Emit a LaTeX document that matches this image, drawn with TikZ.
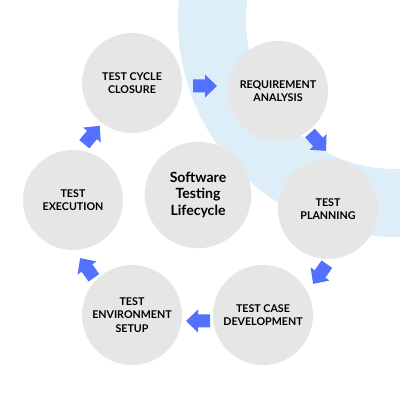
\documentclass[tikz,border=0pt]{standalone}
\usepackage{fontspec}
\setmainfont{Lato}
\definecolor{ringblue}{HTML}{DDEEF8}
\definecolor{stepgray}{HTML}{E6E6E6}
\definecolor{arrowblue}{HTML}{5271FF}
\tikzset{
  stage/.style={circle, fill=stepgray, minimum size=2.5cm, inner sep=0pt, align=center,
    font=\fontsize{7.6pt}{9.5pt}\selectfont\bfseries},
  hub/.style={circle, fill=stepgray, minimum size=2.66cm, inner sep=0pt, align=center,
    font=\fontsize{10pt}{11.6pt}\selectfont\bfseries},
  blockarrow/.pic={\fill[arrowblue] (-12,-6.5) -- (0,-6.5) -- (0,-11.5) -- (12,0) -- (0,11.5) -- (0,6.5) -- (-12,6.5) -- cycle;}
}
\begin{document}
\begin{tikzpicture}[x=0.025cm, y=0.025cm]
\useasboundingbox (0,0) rectangle (400,400);
\fill[white] (0,0) rectangle (400,400);
\begin{scope}
  \clip (0,0) rectangle (400,400);
  \fill[ringblue, even odd rule] (395,380) circle (217) (395,380) circle (149);
\end{scope}
\node[stage] (clo) at (132,317) {TEST CYCLE\\CLOSURE};
\node[stage] (req) at (278,309) {REQUIREMENT\\ANALYSIS};
\node[stage] (pla) at (328,191) {TEST\\PLANNING};
\node[stage] (dev) at (263,85) {TEST CASE\\DEVELOPMENT};
\node[stage] (env) at (132,85) {TEST\\ENVIRONMENT\\SETUP};
\node[stage] (exe) at (73,200) {TEST\\EXECUTION};
\node[hub] (ctr) at (198,205) {Software\\Testing\\Lifecycle};
\pic[rotate=0] at (205,314) {blockarrow};
\pic[rotate=-48] at (318,258) {blockarrow};
\pic[rotate=-125] at (320,126) {blockarrow};
\pic[rotate=180] at (198,79) {blockarrow};
\pic[rotate=125] at (87,132) {blockarrow};
\pic[rotate=50] at (92,265) {blockarrow};
\end{tikzpicture}
\end{document}
